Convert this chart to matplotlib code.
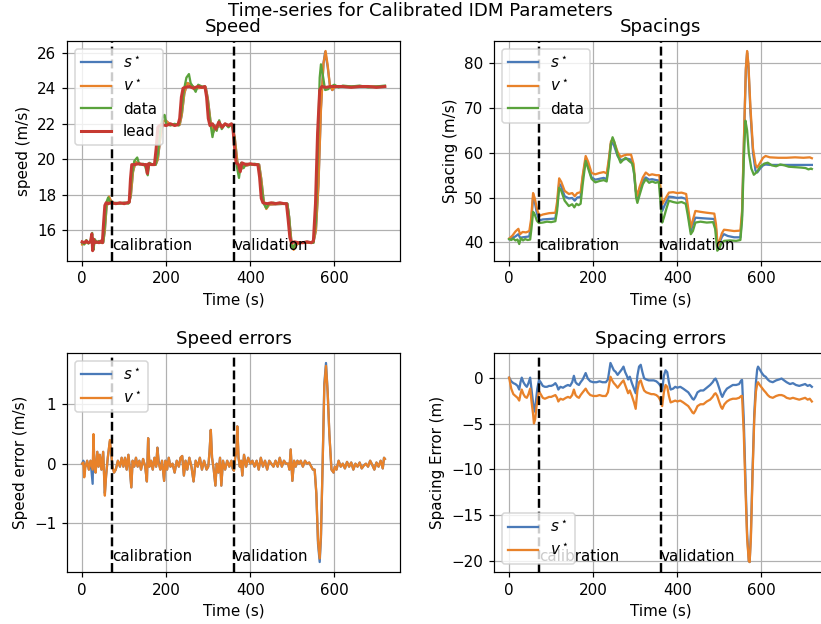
import matplotlib
matplotlib.use("Agg")
import matplotlib.pyplot as plt
import matplotlib.transforms as mtransforms

# ---------------- data ----------------
CAL_START = 72
VAL_START = 360

lead_speed = [(0, 15.35), (5, 15.3), (10, 15.4), (15, 15.3), (20, 15.35), (23, 15.8), (25, 14.85), (27, 15.5),
              (30, 15.3), (35, 15.35), (40, 15.3), (45, 15.4), (48, 15.3), (51, 16.4), (54, 17.4), (57, 17.55),
              (62, 17.5), (70, 17.55), (80, 17.5), (90, 17.55), (100, 17.5), (108, 17.55), (112, 17.6),
              (115, 18.9), (118, 19.7), (125, 19.7), (135, 19.75), (145, 19.7), (152, 19.7), (155, 19.2),
              (158, 19.75), (165, 19.7), (172, 19.7), (176, 20.6), (180, 21.8), (184, 21.9), (190, 21.95),
              (200, 21.9), (210, 22.0), (220, 21.9), (228, 21.95), (232, 22.3), (236, 23.5), (240, 24.0),
              (245, 24.05), (255, 24.1), (265, 24.0), (275, 24.1), (285, 24.05), (292, 24.1), (296, 23.5),
              (300, 22.3), (304, 21.9), (310, 22.0), (318, 21.7), (325, 22.1), (333, 21.8), (340, 22.0),
              (348, 21.9), (355, 22.0), (358, 21.9), (362, 20.8), (366, 19.8), (372, 19.7), (376, 19.3),
              (380, 19.8), (390, 19.7), (400, 19.75), (410, 19.7), (418, 19.7), (422, 19.0), (426, 17.8),
              (430, 17.55), (440, 17.5), (450, 17.55), (460, 17.5), (470, 17.55), (480, 17.5), (486, 17.5),
              (490, 16.6), (494, 15.6), (498, 15.3), (505, 15.35), (515, 15.3), (525, 15.3), (535, 15.35),
              (545, 15.3), (550, 15.4), (555, 17.5), (560, 21.5), (565, 23.9), (570, 24.1), (580, 24.05),
              (590, 24.1), (600, 24.1), (620, 24.1), (640, 24.05), (660, 24.1), (680, 24.1), (700, 24.05),
              (720, 24.1)]

data_speed = [(0, 15.3), (5, 15.2), (10, 15.45), (15, 15.25), (20, 15.4), (24, 15.85), (27, 14.9), (30, 15.5),
              (35, 15.3), (40, 15.4), (45, 15.3), (50, 15.35), (54, 16.3), (58, 17.6), (62, 17.85), (66, 17.6),
              (72, 17.5), (80, 17.55), (90, 17.5), (100, 17.55), (110, 17.5), (114, 17.8), (118, 19.0),
              (124, 19.9), (131, 20.1), (136, 19.7), (145, 19.75), (150, 19.6), (156, 19.1), (160, 19.8),
              (168, 19.7), (175, 19.7), (180, 20.3), (186, 21.7), (192, 22.4), (196, 22.5), (200, 22.0),
              (210, 21.9), (220, 22.0), (230, 21.9), (236, 22.6), (242, 23.9), (248, 24.6), (254, 24.8),
              (258, 24.3), (263, 24.1), (270, 23.8), (276, 24.2), (285, 24.1), (292, 24.1), (298, 23.4),
              (304, 22.2), (310, 21.25), (315, 21.9), (320, 21.6), (326, 22.2), (332, 21.7), (340, 22.0),
              (348, 21.8), (356, 22.0), (362, 21.2), (368, 19.6), (373, 18.95), (378, 19.8), (384, 19.5),
              (390, 19.75), (400, 19.7), (410, 19.75), (420, 19.7), (426, 18.6), (432, 17.5), (438, 17.25),
              (444, 17.5), (455, 17.55), (470, 17.5), (488, 17.5), (492, 16.8), (497, 15.2), (502, 15.0),
              (508, 15.3), (520, 15.3), (535, 15.35), (550, 15.3), (556, 16.5), (561, 21.0), (565, 24.6),
              (568, 25.35), (572, 24.8), (578, 23.9), (585, 23.95), (592, 24.1), (600, 24.2), (610, 24.05),
              (620, 24.15), (640, 24.1), (660, 24.15), (680, 24.05), (700, 24.1), (720, 24.15)]

v_star_speed = [(0, 15.2), (10, 15.3), (20, 15.35), (30, 15.3), (40, 15.3), (50, 15.3), (54, 16.0), (58, 17.3),
                (64, 17.9), (70, 17.6), (80, 17.5), (100, 17.55), (112, 17.55), (116, 18.0), (121, 19.3),
                (127, 19.85), (134, 19.75), (150, 19.7), (175, 19.7), (180, 20.0), (186, 21.2), (192, 22.1),
                (198, 22.2), (210, 21.95), (232, 21.95), (237, 22.5), (243, 23.7), (250, 24.3), (258, 24.2),
                (270, 24.0), (294, 24.05), (299, 23.4), (305, 22.2), (311, 21.5), (318, 21.8), (340, 21.95),
                (358, 21.9), (363, 21.2), (369, 19.9), (375, 19.3), (382, 19.6), (400, 19.7), (421, 19.7),
                (426, 18.9), (432, 17.6), (438, 17.2), (445, 17.45), (488, 17.5), (492, 16.8), (498, 15.3),
                (503, 14.9), (510, 15.2), (520, 15.3), (550, 15.3), (556, 16.0), (562, 18.5), (568, 22.8),
                (574, 25.4), (579, 26.1), (584, 25.3), (589, 24.2), (595, 23.9), (602, 24.1), (620, 24.1),
                (720, 24.1)]

s_star_speed = [(0, 15.25), (10, 15.3), (20, 15.35), (30, 15.3), (40, 15.3), (50, 15.3), (54, 16.0), (58, 17.3),
                (64, 17.85), (70, 17.6), (80, 17.5), (100, 17.55), (112, 17.55), (116, 18.0), (121, 19.3),
                (127, 19.85), (134, 19.75), (150, 19.7), (175, 19.7), (180, 20.0), (186, 21.2), (192, 22.1),
                (198, 22.2), (210, 21.95), (232, 21.95), (237, 22.5), (243, 23.7), (250, 24.3), (258, 24.2),
                (270, 24.0), (294, 24.05), (299, 23.4), (305, 22.2), (311, 21.5), (318, 21.8), (340, 21.95),
                (358, 21.9), (363, 21.2), (369, 19.9), (375, 19.3), (382, 19.6), (400, 19.7), (421, 19.7),
                (426, 18.9), (432, 17.6), (438, 17.25), (445, 17.45), (488, 17.5), (492, 16.8), (498, 15.3),
                (503, 14.95), (510, 15.2), (520, 15.3), (550, 15.3), (556, 16.0), (562, 18.6), (568, 22.9),
                (574, 25.4), (578, 26.05), (584, 25.2), (589, 24.2), (595, 23.9), (602, 24.1), (620, 24.1),
                (720, 24.1)]

data_spacing = [(0, 40.7), (5, 40.5), (10, 40.8), (15, 40.4), (20, 40.6), (24, 39.6), (28, 40.9), (33, 40.4),
                (38, 40.7), (44, 40.5), (50, 40.6), (53, 43.0), (57, 46.8), (61, 46.2), (66, 44.8), (71, 44.3),
                (80, 44.4), (90, 44.6), (100, 44.5), (110, 44.7), (114, 47.0), (119, 52.2), (124, 51.5),
                (132, 49.3), (142, 48.1), (150, 48.5), (155, 47.8), (160, 48.6), (165, 48.3), (170, 48.6),
                (175, 53.0), (182, 58.2), (188, 56.5), (196, 54.2), (205, 53.4), (215, 53.7), (225, 53.9),
                (232, 53.6), (237, 57.0), (242, 62.0), (246, 63.5), (250, 62.5), (258, 59.5), (265, 57.8),
                (272, 58.5), (277, 58.9), (285, 58.2), (293, 57.6), (298, 55.0), (302, 50.0), (305, 48.8),
                (310, 50.5), (318, 53.0), (325, 54.1), (333, 53.3), (340, 53.6), (348, 53.3), (356, 53.5),
                (360, 49.0), (364, 44.4), (368, 45.5), (374, 47.5), (380, 49.3), (390, 49.0), (400, 48.8),
                (410, 49.0), (420, 48.6), (425, 46.0), (432, 41.8), (437, 42.5), (443, 44.4), (455, 44.6),
                (470, 44.4), (485, 44.5), (490, 43.0), (495, 38.1), (500, 38.6), (505, 39.8), (511, 40.3),
                (525, 40.4), (540, 40.3), (550, 40.5), (554, 45.0), (558, 58.0), (562, 67.2), (566, 65.0),
                (570, 60.0), (576, 56.5), (582, 55.1), (590, 55.8), (598, 57.0), (607, 57.6), (615, 57.8),
                (625, 57.2), (635, 57.0), (645, 57.4), (655, 57.2), (665, 56.9), (680, 56.8), (695, 56.7),
                (705, 56.6), (712, 56.3), (718, 56.5), (720, 56.4)]

v_star_spacing = [(0, 40.8), (8, 41.5), (15, 42.4), (22, 43.0), (26, 41.8), (32, 42.3), (40, 42.2), (48, 42.5),
                  (52, 45.0), (57, 51.0), (61, 49.8), (66, 47.5), (72, 45.9), (80, 46.2), (95, 46.5),
                  (110, 46.6), (114, 49.0), (119, 54.3), (124, 53.5), (132, 51.5), (142, 50.8), (150, 51.0),
                  (156, 50.3), (162, 51.0), (170, 51.2), (175, 55.0), (182, 59.3), (188, 58.0), (196, 55.5),
                  (205, 55.2), (215, 55.5), (225, 55.7), (232, 55.4), (237, 58.5), (242, 62.5), (246, 63.1),
                  (250, 62.4), (258, 60.2), (265, 59.1), (272, 59.4), (280, 59.6), (290, 59.6), (296, 57.5),
                  (301, 52.0), (305, 50.4), (310, 52.3), (318, 54.5), (325, 55.6), (333, 55.0), (340, 55.2),
                  (350, 55.0), (357, 55.0), (361, 51.5), (364, 48.5), (370, 49.5), (380, 51.1), (390, 51.2),
                  (400, 51.0), (410, 51.1), (421, 50.8), (426, 47.5), (432, 43.3), (437, 45.0), (443, 47.0),
                  (455, 46.8), (470, 46.6), (488, 46.4), (492, 44.0), (496, 39.2), (501, 40.5), (506, 42.0),
                  (511, 42.8), (520, 42.7), (535, 42.5), (550, 42.6), (554, 47.0), (559, 65.0), (563, 79.0),
                  (566, 82.8), (569, 80.0), (574, 70.0), (580, 61.0), (586, 57.4), (590, 56.7), (597, 57.8),
                  (604, 58.9), (610, 59.3), (620, 59.0), (640, 58.9), (660, 58.9), (680, 59.0), (700, 58.9),
                  (715, 59.0), (720, 58.8)]

s_star_spacing = [(0, 40.7), (8, 41.0), (15, 41.3), (22, 41.8), (26, 41.0), (32, 41.1), (40, 41.2), (48, 41.3),
                  (52, 44.0), (57, 50.0), (61, 49.0), (66, 46.5), (72, 44.9), (80, 45.1), (95, 45.2),
                  (110, 45.3), (114, 48.0), (119, 53.1), (124, 52.5), (132, 50.3), (142, 49.8), (150, 49.9),
                  (156, 49.3), (162, 50.0), (170, 50.1), (175, 54.5), (182, 58.6), (188, 57.0), (196, 54.5),
                  (205, 54.0), (215, 54.2), (225, 54.4), (232, 54.1), (237, 58.0), (242, 62.0), (246, 62.2),
                  (250, 61.5), (258, 59.3), (265, 58.4), (272, 58.5), (280, 58.7), (290, 58.5), (296, 56.5),
                  (301, 51.5), (305, 50.0), (310, 51.8), (318, 53.8), (325, 54.5), (333, 54.0), (340, 54.1),
                  (350, 53.9), (357, 53.8), (361, 50.0), (364, 47.0), (370, 48.3), (380, 50.2), (390, 50.1),
                  (400, 49.9), (410, 50.0), (421, 49.7), (426, 46.5), (432, 42.5), (437, 44.0), (443, 45.5),
                  (455, 45.4), (470, 45.3), (488, 45.2), (492, 43.0), (496, 38.8), (501, 40.0), (506, 41.2),
                  (511, 41.8), (520, 41.4), (535, 41.1), (550, 41.1), (554, 46.0), (559, 64.5), (563, 78.5),
                  (566, 82.4), (569, 79.5), (574, 69.0), (580, 60.0), (586, 56.0), (590, 55.6), (597, 56.5),
                  (604, 57.2), (610, 57.4), (620, 57.3), (640, 57.3), (660, 57.3), (680, 57.3), (700, 57.3),
                  (715, 57.3), (720, 57.3)]

v_star_speed_err = [(0, 0.0), (3, 0.02), (5, -0.23), (8, -0.05), (12, 0.05), (16, -0.1), (20, 0.05), (25, -0.1),
                    (27, 0.5), (29, 0.0), (32, -0.15), (36, 0.2), (39, -0.05), (42, 0.15), (46, -0.1), (50, 0.2),
                    (54, -0.54), (57, -0.2), (61, 0.1), (66, 0.4), (69, 0.2), (72, -0.05), (76, -0.15), (80, -0.1),
                    (85, 0.05), (90, -0.05), (94, 0.1), (98, -0.05), (102, 0.1), (106, -0.1), (110, 0.15),
                    (113, -0.05), (117, -0.4), (120, 0.05), (124, -0.05), (128, 0.1), (132, -0.05), (136, 0.05),
                    (140, -0.1), (145, 0.08), (150, -0.05), (154, -0.3), (157, 0.43), (160, -0.05), (164, 0.05),
                    (168, -0.1), (172, 0.1), (176, -0.05), (179, 0.27), (182, 0.0), (186, -0.1), (190, 0.05),
                    (195, -0.29), (198, 0.05), (202, -0.1), (206, 0.1), (210, -0.05), (215, 0.0), (220, -0.15),
                    (225, 0.05), (230, -0.05), (234, 0.1), (238, 0.13), (242, -0.2), (246, 0.05), (250, -0.1),
                    (255, 0.1), (260, -0.05), (265, -0.3), (270, 0.05), (275, -0.05), (280, 0.1), (285, -0.1),
                    (290, 0.05), (296, -0.1), (300, -0.05), (303, 0.2), (306, 0.57), (309, 0.1), (313, -0.1),
                    (317, -0.37), (320, 0.0), (324, -0.15), (328, 0.1), (331, -0.37), (335, 0.05), (340, -0.1),
                    (345, 0.05), (350, -0.05), (355, 0.05), (358, -0.08), (361, -0.12), (364, 0.1), (367, 0.2),
                    (369, 0.63), (372, 0.1), (375, -0.05), (378, 0.05), (381, -0.2), (385, 0.15), (390, -0.05),
                    (395, 0.1), (400, 0.0), (405, 0.05), (410, -0.05), (415, 0.05), (420, -0.1), (425, 0.1),
                    (430, -0.05), (435, 0.05), (440, -0.1), (445, 0.05), (450, 0.0), (455, -0.05), (460, 0.05),
                    (465, -0.05), (470, 0.1), (475, -0.05), (480, 0.05), (485, 0.0), (490, 0.0), (493, -0.1),
                    (496, 0.24), (500, -0.29), (504, 0.05), (508, -0.05), (512, 0.05), (516, 0.0), (520, 0.05),
                    (525, -0.05), (530, 0.05), (535, 0.0), (540, 0.02), (545, -0.05), (549, -0.1), (553, -0.1),
                    (557, -0.5), (561, -1.3), (565, -1.6), (568, -1.2), (572, 0.0), (576, 1.3), (580, 1.65),
                    (584, 1.2), (588, 0.5), (593, -0.1), (598, -0.15), (601, -0.05), (605, -0.1), (610, 0.05),
                    (615, -0.05), (620, 0.0), (625, -0.08), (630, 0.03), (635, -0.05), (640, 0.02), (645, -0.1),
                    (650, 0.0), (655, -0.05), (660, 0.02), (665, -0.08), (670, -0.03), (675, 0.0), (680, -0.05),
                    (685, 0.05), (690, -0.02), (695, -0.1), (700, 0.02), (705, -0.05), (710, 0.05), (715, -0.08),
                    (718, 0.1), (720, 0.08)]

s_star_speed_err = [(0, 0.0), (3, 0.05), (5, -0.05), (8, -0.05), (12, 0.05), (16, -0.1), (20, 0.05), (25, -0.34),
                    (27, 0.45), (29, 0.0), (32, -0.15), (36, 0.2), (39, -0.05), (42, 0.15), (46, -0.1), (50, 0.2),
                    (54, -0.5), (57, -0.2), (61, 0.1), (66, 0.38), (69, 0.2), (72, -0.05), (76, -0.15), (80, -0.1),
                    (85, 0.05), (90, -0.05), (94, 0.1), (98, -0.05), (102, 0.1), (106, -0.1), (110, 0.15),
                    (113, -0.05), (117, -0.4), (120, 0.05), (124, -0.05), (128, 0.1), (132, -0.05), (136, 0.05),
                    (140, -0.1), (145, 0.08), (150, -0.05), (154, -0.3), (157, 0.43), (160, -0.05), (164, 0.05),
                    (168, -0.1), (172, 0.1), (176, -0.05), (179, 0.27), (182, 0.05), (186, -0.1), (190, 0.05),
                    (195, -0.29), (198, 0.05), (202, -0.1), (206, 0.1), (210, -0.05), (215, 0.0), (220, -0.15),
                    (225, 0.05), (230, -0.05), (234, 0.1), (238, 0.13), (242, -0.2), (246, 0.05), (250, -0.1),
                    (255, 0.1), (260, -0.05), (265, -0.3), (270, 0.05), (275, -0.05), (280, 0.1), (285, -0.1),
                    (290, 0.05), (296, -0.1), (300, -0.05), (303, 0.2), (306, 0.57), (309, 0.1), (313, -0.1),
                    (317, -0.37), (320, 0.0), (324, -0.15), (328, 0.1), (331, -0.37), (335, 0.05), (340, -0.1),
                    (345, 0.05), (350, -0.05), (355, 0.05), (358, -0.08), (361, -0.12), (364, 0.1), (367, 0.2),
                    (369, 0.63), (372, 0.1), (375, -0.05), (378, 0.05), (381, -0.2), (385, 0.15), (390, -0.05),
                    (395, 0.1), (400, 0.0), (405, 0.05), (410, -0.05), (415, 0.05), (420, -0.1), (425, 0.1),
                    (430, -0.05), (435, 0.05), (440, -0.1), (445, 0.05), (450, 0.0), (455, -0.05), (460, 0.05),
                    (465, -0.05), (470, 0.1), (475, -0.05), (480, 0.05), (485, 0.0), (490, 0.0), (493, -0.1),
                    (496, 0.24), (500, -0.29), (504, 0.05), (508, -0.05), (512, 0.05), (516, 0.0), (520, 0.05),
                    (525, -0.05), (530, 0.05), (535, 0.0), (540, 0.02), (545, -0.05), (549, -0.1), (553, -0.1),
                    (557, -0.5), (561, -1.35), (565, -1.66), (568, -1.25), (572, 0.0), (576, 1.35), (580, 1.7),
                    (584, 1.2), (588, 0.5), (593, -0.1), (598, -0.15), (601, -0.05), (605, -0.1), (610, 0.05),
                    (615, -0.05), (620, 0.0), (625, -0.08), (630, 0.03), (635, -0.05), (640, 0.02), (645, -0.1),
                    (650, 0.0), (655, -0.05), (660, 0.02), (665, -0.08), (670, -0.03), (675, 0.0), (680, -0.05),
                    (685, 0.05), (690, -0.02), (695, -0.1), (700, 0.02), (705, -0.05), (710, 0.05), (715, -0.08),
                    (718, 0.1), (720, 0.08)]

s_star_spacing_err = [(0, 0.0), (5, -0.4), (10, -0.6), (15, -0.7), (20, -0.9), (24, -1.3), (27, -0.5), (30, 0.0),
                      (34, -0.5), (38, -0.8), (42, -1.0), (46, -0.6), (50, 0.0), (53, -1.2), (57, -2.8),
                      (61, -3.7), (64, -2.5), (67, -1.2), (71, -0.25), (75, -0.5), (80, -0.9), (85, -1.0),
                      (90, -1.0), (95, -0.9), (100, -0.9), (105, -0.8), (110, -0.6), (114, -0.9), (117, -1.3),
                      (122, -1.0), (128, -1.1), (135, -0.9), (140, -0.8), (145, -0.9), (150, -0.5), (154, 0.2),
                      (158, -0.5), (162, -0.7), (166, -0.8), (170, -0.5), (175, -0.2), (182, 0.5), (187, -0.1),
                      (193, -0.4), (200, -0.5), (208, -0.5), (215, -0.4), (222, -0.5), (230, -0.5), (235, -0.2),
                      (241, 1.6), (245, 1.2), (249, 0.8), (253, 0.65), (258, 0.3), (263, 0.6), (268, 0.9),
                      (272, 1.2), (276, 0.6), (280, 0.2), (283, -0.2), (287, 0.1), (292, -0.6), (297, -1.2),
                      (301, -1.7), (305, 0.2), (309, 1.2), (313, 1.4), (317, 0.6), (321, -0.07), (326, -0.2),
                      (332, -0.3), (338, -0.3), (344, -0.3), (350, -0.4), (355, -0.6), (360, -0.9), (364, -1.4),
                      (368, 0.2), (372, 0.8), (376, 0.6), (380, -0.5), (384, -1.3), (390, -1.2), (395, -1.0),
                      (400, -1.1), (407, -1.0), (414, -1.2), (420, -1.4), (426, -1.6), (432, -2.0), (436, -2.3),
                      (439, -2.4), (443, -2.1), (448, -1.6), (455, -1.4), (462, -1.4), (470, -1.1), (478, -0.8),
                      (484, -0.5), (488, -0.2), (491, -0.1), (495, -0.5), (500, -1.2), (504, -1.8), (507, -2.1),
                      (512, -1.6), (518, -1.2), (525, -1.0), (532, -0.8), (540, -0.8), (547, -0.7), (552, -0.3),
                      (554, -0.25), (558, -4.5), (562, -11.0), (566, -17.0), (570, -20.0), (572, -20.1),
                      (575, -17.0), (579, -10.0), (583, -4.0), (587, -0.5), (590, 0.9), (592, 1.2), (596, 0.9),
                      (601, 0.5), (606, 0.2), (610, 0.1), (615, -0.2), (620, -0.4), (627, -0.5), (635, -0.3),
                      (642, -0.2), (648, -0.1), (654, -0.3), (660, -0.5), (668, -0.7), (675, -0.6), (682, -0.8),
                      (690, -0.9), (697, -0.8), (704, -0.7), (710, -0.9), (715, -0.8), (720, -1.0)]

v_star_spacing_err = [(0, 0.0), (5, -1.2), (10, -1.8), (15, -2.0), (20, -2.2), (24, -2.5), (27, -1.8), (30, -1.3),
                      (34, -1.8), (38, -2.1), (42, -2.2), (46, -1.8), (50, -1.2), (53, -2.5), (57, -4.0),
                      (59, -5.0), (62, -4.5), (65, -3.2), (68, -2.2), (71, -1.5), (75, -1.8), (80, -2.2),
                      (85, -2.3), (90, -2.2), (95, -2.1), (100, -2.1), (105, -2.0), (110, -1.9), (114, -2.2),
                      (117, -2.6), (122, -2.3), (128, -2.4), (135, -2.2), (140, -2.1), (145, -2.2), (150, -1.9),
                      (154, -1.3), (158, -1.9), (162, -2.1), (166, -2.2), (170, -1.9), (175, -1.6), (182, -1.2),
                      (187, -1.6), (193, -1.9), (200, -2.0), (208, -2.0), (215, -1.9), (222, -2.0), (230, -2.0),
                      (235, -1.6), (241, 0.1), (245, -0.3), (249, -0.6), (253, -0.8), (258, -1.1), (263, -0.8),
                      (268, -0.5), (272, -0.3), (276, -0.8), (280, -1.3), (283, -1.7), (287, -1.4), (292, -2.0),
                      (297, -2.7), (301, -3.4), (305, -1.4), (309, -0.5), (313, -0.3), (317, -0.9), (321, -1.4),
                      (326, -1.6), (332, -1.7), (338, -1.8), (344, -1.8), (350, -1.9), (355, -2.1), (360, -2.5),
                      (364, -3.1), (368, -1.6), (372, -0.8), (376, -1.0), (380, -2.0), (384, -2.7), (390, -2.6),
                      (395, -2.5), (400, -2.6), (407, -2.5), (414, -2.7), (420, -2.9), (426, -3.1), (432, -3.5),
                      (436, -3.8), (439, -3.9), (443, -3.6), (448, -3.1), (455, -2.9), (462, -2.9), (470, -2.6),
                      (478, -2.4), (484, -2.1), (488, -1.8), (491, -1.7), (495, -2.0), (500, -2.7), (504, -3.2),
                      (507, -3.4), (512, -2.9), (518, -2.6), (525, -2.4), (532, -2.3), (540, -2.3), (547, -2.2),
                      (552, -2.0), (554, -2.0), (558, -6.0), (562, -12.0), (566, -17.5), (570, -20.0),
                      (572, -20.1), (575, -17.5), (579, -10.5), (583, -4.5), (587, -1.5), (590, -0.7),
                      (592, -0.5), (596, -0.8), (601, -1.1), (606, -1.4), (610, -1.6), (615, -1.9), (620, -2.1),
                      (627, -2.2), (635, -2.0), (642, -1.9), (648, -1.9), (654, -2.0), (660, -2.2), (668, -2.3),
                      (675, -2.2), (682, -2.3), (690, -2.4), (697, -2.3), (704, -2.2), (710, -2.4), (715, -2.3),
                      (720, -2.6)]

# ---------------- style ----------------
C_S = '#4a7ab8'
C_V = '#e8822a'
C_D = '#5aa33c'
C_L = '#c63a32'
LW = 1.5

DPI = 109
W, H = 821.0, 624.0


def xy(pairs):
    return [p[0] for p in pairs], [p[1] for p in pairs]


fig = plt.figure(figsize=(W / DPI, H / DPI), dpi=DPI)


def mkax(l, t, r, b):
    return fig.add_axes([l / W, 1 - b / H, (r - l) / W, (b - t) / H])


ax_sp = mkax(67, 41, 400, 260.7)
ax_gap = mkax(494, 41, 827, 260.7)
ax_spe = mkax(67, 353, 400, 572)
ax_gape = mkax(494, 353, 827, 572)


def decorate(ax, ylabel, title):
    ax.grid(True, color='#b0b0b0', linewidth=0.8)
    ax.axvline(CAL_START, color='k', linestyle='--', linewidth=1.6, zorder=2.5)
    ax.axvline(VAL_START, color='k', linestyle='--', linewidth=1.6, zorder=2.5)
    tr = mtransforms.blended_transform_factory(ax.transData, ax.transAxes)
    ax.text(CAL_START, 0.05, 'calibration', transform=tr, fontsize=10, va='baseline', ha='left')
    ax.text(VAL_START, 0.05, 'validation', transform=tr, fontsize=10, va='baseline', ha='left')
    ax.set_xlabel('Time (s)', fontsize=10)
    ax.set_ylabel(ylabel, fontsize=10)
    ax.set_title(title, fontsize=12)


# Speed
for pairs, c, lab, lw in [(s_star_speed, C_S, r'$s^\star$', LW), (v_star_speed, C_V, r'$v^\star$', LW),
                          (data_speed, C_D, 'data', LW), (lead_speed, C_L, 'lead', 2.0)]:
    x, y = xy(pairs)
    ax_sp.plot(x, y, color=c, lw=lw, label=lab)
decorate(ax_sp, 'speed (m/s)', 'Speed')
ax_sp.legend(loc='upper left', fontsize=10)

# Spacings
for pairs, c, lab in [(s_star_spacing, C_S, r'$s^\star$'), (v_star_spacing, C_V, r'$v^\star$'),
                      (data_spacing, C_D, 'data')]:
    x, y = xy(pairs)
    ax_gap.plot(x, y, color=c, lw=LW, label=lab)
decorate(ax_gap, 'Spacing (m/s)', 'Spacings')
ax_gap.legend(loc='upper left', fontsize=10)

# Speed errors
for pairs, c, lab in [(s_star_speed_err, C_S, r'$s^\star$'), (v_star_speed_err, C_V, r'$v^\star$')]:
    x, y = xy(pairs)
    ax_spe.plot(x, y, color=c, lw=LW, label=lab)
decorate(ax_spe, 'Speed error (m/s)', 'Speed errors')
ax_spe.legend(loc='upper left', fontsize=10)

# Spacing errors
for pairs, c, lab in [(s_star_spacing_err, C_S, r'$s^\star$'), (v_star_spacing_err, C_V, r'$v^\star$')]:
    x, y = xy(pairs)
    ax_gape.plot(x, y, color=c, lw=LW, label=lab)
decorate(ax_gape, 'Spacing Error (m)', 'Spacing errors')
ax_gape.legend(loc='lower left', fontsize=10)

fig.suptitle('Time-series for Calibrated IDM Parameters', x=420 / W, y=1 - 2 / H, va='top', fontsize=12)

fig.savefig('out.png', dpi=DPI)
